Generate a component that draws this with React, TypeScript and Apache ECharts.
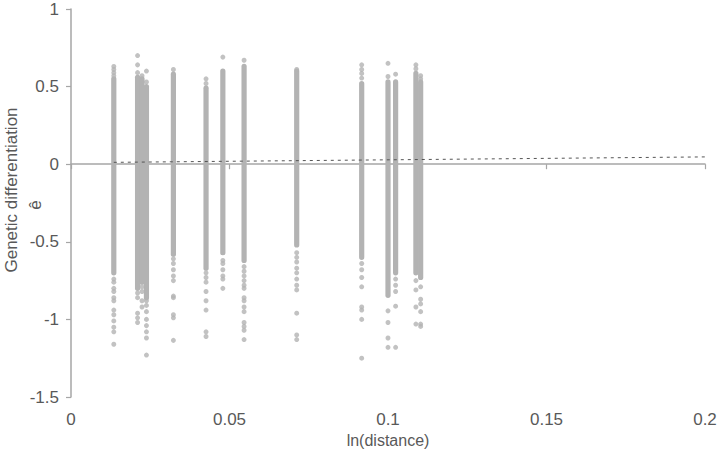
import React, { useEffect, useRef } from "react";
import * as echarts from "echarts";

// x positions (ln distance) of each vertical column of points
const columnX = [0.0135, 0.021, 0.0224, 0.0238, 0.0323, 0.0426, 0.0479, 0.0546, 0.0712, 0.0917, 0.1, 0.1024, 0.1088, 0.1103];
// upper / lower ends of the densely packed part of each column
const denseHigh = [0.55, 0.56, 0.55, 0.5, 0.58, 0.49, 0.6, 0.63, 0.6, 0.52, 0.53, 0.53, 0.585, 0.53];
const denseLow = [-0.7, -0.8, -0.76, -0.86, -0.58, -0.67, -0.57, -0.62, -0.52, -0.6, -0.845, -0.7, -0.7, -0.73];
// isolated points of each column (same order as columnX)
const outliersByColumn: number[][] = [
  [0.63, 0.61, 0.59, 0.57, -0.74, -0.76, -0.8, -0.82, -0.86, -0.88, -0.94, -0.97, -1.01, -1.05, -1.08, -1.16],
  [0.7, 0.64, 0.59, -0.83, -0.86, -0.96, -0.99, -1.02],
  [0.57, -0.79, -0.82, -0.88, -0.92],
  [0.6, 0.53, -0.88, -0.91, -0.95, -1.0, -1.04, -1.08, -1.12, -1.23],
  [0.61, -0.61, -0.64, -0.68, -0.72, -0.75, -0.85, -0.86, -0.97, -0.99, -1.135],
  [0.55, 0.52, -0.7, -0.73, -0.76, -0.82, -0.88, -0.94, -1.08, -1.11],
  [0.69, -0.62, -0.64, -0.68, -0.72, -0.74, -0.8],
  [0.67, -0.66, -0.69, -0.72, -0.75, -0.78, -0.8, -0.86, -0.88, -0.92, -0.95, -1.02, -1.045, -1.07, -1.13],
  [0.61, -0.57, -0.6, -0.63, -0.67, -0.7, -0.74, -0.78, -0.81, -0.96, -1.1, -1.13],
  [0.64, 0.61, 0.585, 0.555, -0.64, -0.68, -0.73, -0.79, -0.92, -0.94, -1.0, -1.25],
  [0.65, 0.565, -0.945, -1.02, -1.12, -1.18],
  [0.58, -0.74, -0.78, -0.82, -0.915, -1.18],
  [0.64, 0.615, -0.75, -0.81, -0.92, -1.03],
  [0.57, 0.55, -0.79, -0.87, -0.9, -0.95, -1.03, -1.045],
];
// linear trend line
const trendX = [0.0135, 0.2];
const trendY = [0.012, 0.047];

const xTicks = { min: 0, max: 0.2, interval: 0.05 };
const yTicks = { min: -1.5, max: 1, interval: 0.5 };

const POINT = "#b3b3b3";
const TEXT = "#595959";
const AXIS = "#a6a6a6";
const FONT = "Liberation Sans, Arial, sans-serif";

export default function App() {
  const ref = useRef<HTMLDivElement>(null);
  useEffect(() => {
    if (!ref.current) return;
    const chart = echarts.init(ref.current, undefined, { renderer: "svg" });
    const bands = columnX.map((x, i) => [x, denseLow[i], denseHigh[i]]);
    const outliers: number[][] = [];
    outliersByColumn.forEach((ys, i) => ys.forEach((y) => outliers.push([columnX[i], y])));
    const trend = trendX.map((x, i) => [x, trendY[i]]);

    chart.setOption({
      animation: false,
      textStyle: { fontFamily: FONT },
      grid: { left: 71, right: 15, top: 9, bottom: 66 },
      xAxis: [
        {
          type: "value",
          ...xTicks,
          position: "bottom",
          axisLine: { show: false, onZero: false },
          axisTick: { show: false },
          splitLine: { show: false },
          axisLabel: { fontSize: 17, color: TEXT, margin: 14, fontFamily: FONT },
          name: "ln(distance)",
          nameLocation: "middle",
          nameGap: 35,
          nameTextStyle: { fontSize: 16, color: TEXT, fontFamily: FONT },
        },
        {
          type: "value",
          ...xTicks,
          position: "bottom",
          axisLine: { show: true, onZero: true, lineStyle: { color: AXIS, width: 1.5 } },
          axisTick: { show: true, length: 5, lineStyle: { color: AXIS, width: 1.2 } },
          axisLabel: { show: false },
          splitLine: { show: false },
        },
      ],
      yAxis: {
        type: "value",
        ...yTicks,
        axisLine: { show: true, onZero: false, lineStyle: { color: AXIS, width: 1.5 } },
        axisTick: { show: true, length: 5, lineStyle: { color: AXIS, width: 1.2 } },
        splitLine: { show: false },
        axisLabel: { fontSize: 17, color: TEXT, margin: 12, fontFamily: FONT },
      },
      graphic: [
        {
          type: "text",
          x: 11,
          y: 190,
          rotation: Math.PI / 2,
          style: {
            text: "Genetic differentiation",
            fontSize: 17,
            fontFamily: FONT,
            fill: TEXT,
            align: "center",
            verticalAlign: "middle",
          },
        },
        {
          type: "text",
          x: 35,
          y: 205,
          rotation: Math.PI / 2,
          style: {
            text: "ê",
            fontSize: 17,
            fontFamily: FONT,
            fill: TEXT,
            align: "center",
            verticalAlign: "middle",
          },
        },
      ],
      series: [
        {
          type: "custom",
          xAxisIndex: 0,
          encode: { x: 0, y: [1, 2] },
          data: bands,
          renderItem: (params: any, api: any) => {
            const top = api.coord([api.value(0), api.value(2)]);
            const bot = api.coord([api.value(0), api.value(1)]);
            return {
              type: "rect",
              shape: { x: top[0] - 2.6, y: top[1] - 2.6, width: 5.2, height: bot[1] - top[1] + 5.2, r: 2.6 },
              style: { fill: POINT },
            };
          },
          z: 2,
        },
        {
          type: "scatter",
          xAxisIndex: 0,
          data: outliers,
          symbol: "circle",
          symbolSize: 5,
          itemStyle: { color: POINT },
          z: 2,
        },
        {
          type: "line",
          xAxisIndex: 0,
          data: trend,
          symbol: "none",
          lineStyle: { color: "#555555", width: 1, type: [3, 4] },
          z: 3,
        },
      ],
    });
    return () => chart.dispose();
  }, []);
  return <div ref={ref} style={{ width: 720, height: 463, position: "absolute", left: 0, top: 0 }} />;
}
